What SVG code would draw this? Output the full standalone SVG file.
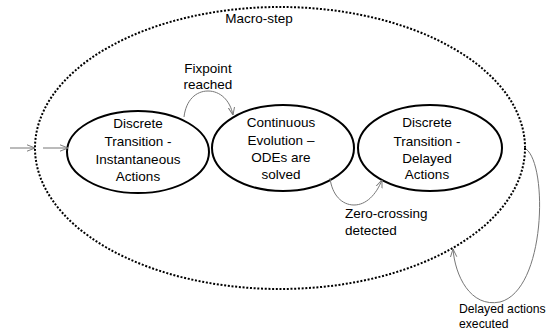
<svg xmlns="http://www.w3.org/2000/svg" width="552" height="336" viewBox="0 0 552 336">
<style>
.t{font-family:"Liberation Sans",Arial,sans-serif;font-size:13.5px;fill:#000}
.m{text-anchor:middle}
.s{font-size:12.2px}
.node{fill:#fff;stroke:#000;stroke-width:2}
.c{fill:none;stroke:#777;stroke-width:1;marker-end:url(#ah)}
</style>
<defs>
<marker id="ah" viewBox="0 0 10 10" refX="10" refY="5" markerWidth="8" markerHeight="8" markerUnits="userSpaceOnUse" orient="auto">
<path d="M0,1 L10,5 L0,9" fill="none" stroke="#777" stroke-width="1.2"/>
</marker>
</defs>
<g id="macro">
<ellipse cx="280" cy="148" rx="245" ry="141" fill="none" stroke="#000" stroke-width="2" stroke-dasharray="2 1.7"/>
<text class="t m" x="259" y="23">Macro-step</text>
</g>
<g id="n1">
<ellipse class="node" cx="138" cy="152" rx="71" ry="41"/>
<text class="t m" x="138" y="128">Discrete</text>
<text class="t m" x="138" y="146">Transition -</text>
<text class="t m" x="138" y="164">Instantaneous</text>
<text class="t m" x="138" y="181">Actions</text>
</g>
<g id="n2">
<ellipse class="node" cx="283" cy="148" rx="71" ry="43"/>
<text class="t m" x="281" y="127">Continuous</text>
<text class="t m" x="281" y="145">Evolution –</text>
<text class="t m" x="281" y="162">ODEs are</text>
<text class="t m" x="281" y="179">solved</text>
</g>
<g id="n3">
<ellipse class="node" cx="430" cy="148" rx="72" ry="43"/>
<text class="t m" x="427" y="127">Discrete</text>
<text class="t m" x="427" y="146">Transition -</text>
<text class="t m" x="427" y="163">Delayed</text>
<text class="t m" x="427" y="179">Actions</text>
</g>
<g id="connectors">
<path class="c" d="M10,148 L35,148"/>
<path class="c" d="M43,148 L68,148"/>
<path class="c" d="M184,117 C186,100 196,91 208,91 C220,91 230,100 233,115"/>
<path class="c" d="M330,178 C332,195 342,205 354,205 C366,205 376,195 382,180"/>
<path class="c" d="M526,149 C548,165 546,290 500,302 C470,308 455,275 453,249"/>
</g>
<g id="labels">
<text class="t m" x="208" y="73">Fixpoint</text>
<text class="t m" x="208" y="89">reached</text>
<text class="t" x="345" y="218">Zero-crossing</text>
<text class="t" x="345" y="235">detected</text>
<text class="t s" x="459" y="313">Delayed actions</text>
<text class="t s" x="459" y="328">executed</text>
</g>
</svg>
